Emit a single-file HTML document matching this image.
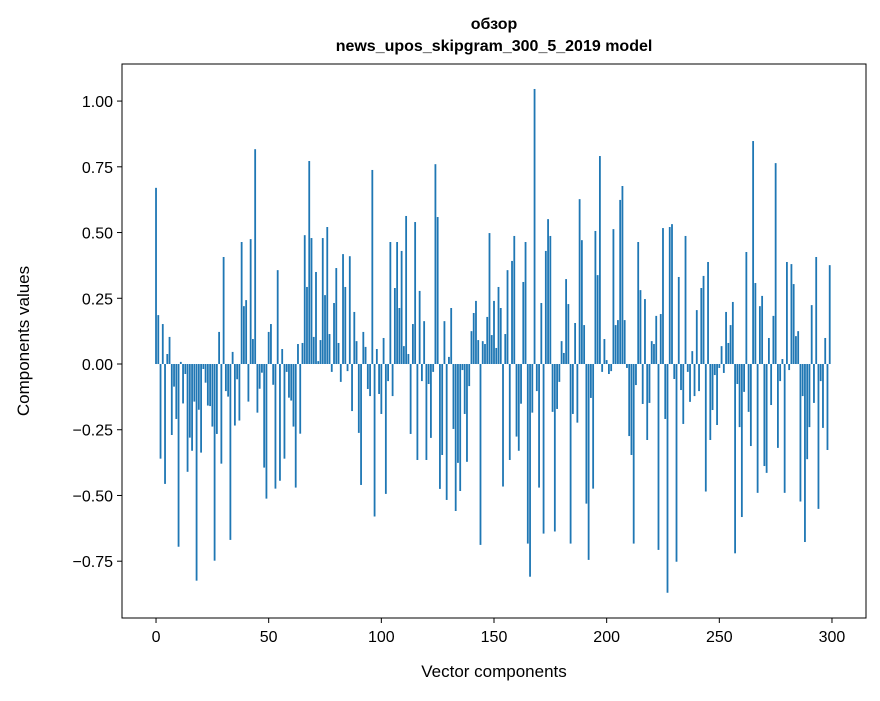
<!DOCTYPE html>
<html><head><meta charset="utf-8"><style>
body{margin:0;background:#fff;}
svg text{font-family:"Liberation Sans","DejaVu Sans",sans-serif;fill:#000;}
</style></head><body>
<svg id="chart" width="880" height="696" viewBox="0 0 880 696" xmlns="http://www.w3.org/2000/svg">
<rect x="0" y="0" width="880" height="696" fill="#fff"/>
<text x="494" y="29" text-anchor="middle" font-size="16" font-weight="bold">обзор</text>
<text x="494" y="51" text-anchor="middle" font-size="16" font-weight="bold">news_upos_skipgram_300_5_2019 model</text>
<g id="bars"></g>
<g id="axes"></g>
<text x="494" y="677" text-anchor="middle" font-size="17">Vector components</text>
<text x="0" y="0" transform="translate(29,341) rotate(-90)" text-anchor="middle" font-size="17">Components values</text>
</svg>
<script>
const values = [0.67,0.186,-0.36,0.152,-0.456,0.038,0.103,-0.27,-0.086,-0.209,-0.695,0.008,-0.15,-0.038,-0.41,-0.28,-0.33,-0.143,-0.824,-0.174,-0.337,-0.019,-0.071,-0.158,-0.16,-0.238,-0.748,-0.266,0.122,-0.379,0.407,-0.103,-0.124,-0.669,0.046,-0.234,-0.058,-0.215,0.464,0.22,0.243,-0.143,0.475,0.095,0.817,-0.185,-0.094,-0.033,-0.394,-0.512,
0.122,0.152,-0.079,-0.474,0.357,-0.444,0.057,-0.36,-0.03,-0.128,-0.139,-0.238,-0.47,0.076,-0.265,0.08,0.49,0.293,0.772,0.479,0.103,0.35,0.011,0.091,0.479,0.262,0.521,0.114,-0.03,0.232,0.365,0.08,-0.068,0.418,0.293,-0.027,0.41,-0.179,0.198,0.087,-0.262,-0.46,0.122,0.065,-0.095,-0.122,0.738,-0.58,0.057,-0.114,
-0.19,0.099,-0.494,-0.065,0.464,-0.122,0.289,0.464,0.213,0.43,0.068,0.563,0.038,-0.266,0.152,0.54,-0.365,0.278,-0.065,0.163,-0.365,-0.076,-0.281,-0.03,0.76,0.559,-0.475,-0.346,0.163,-0.517,0.027,0.213,-0.247,-0.559,-0.376,-0.483,-0.023,-0.19,-0.372,-0.084,0.125,0.194,0.24,0.091,-0.688,0.087,0.076,0.179,0.498,0.11,
0.24,0.061,0.293,0.213,-0.466,0.114,0.357,-0.365,0.392,0.487,-0.276,-0.33,-0.151,0.312,0.464,-0.683,-0.809,-0.185,1.046,-0.103,-0.47,0.232,-0.645,0.43,0.551,0.487,-0.182,-0.637,-0.171,-0.068,0.087,0.042,0.323,0.228,-0.683,-0.19,0.156,-0.223,0.627,0.471,0.148,-0.531,-0.745,-0.129,-0.474,0.506,0.338,0.791,-0.03,0.095,
0.015,-0.038,-0.027,0.513,0.148,0.167,0.624,0.677,0.167,-0.015,-0.274,-0.346,-0.683,-0.08,0.464,0.281,-0.152,0.247,-0.289,-0.148,0.087,0.076,0.183,-0.707,0.19,0.517,-0.209,-0.87,0.521,0.532,-0.057,-0.752,0.331,-0.099,-0.228,0.487,-0.03,-0.144,0.049,-0.122,0.205,-0.103,0.289,0.335,-0.485,0.388,-0.289,-0.175,-0.042,-0.232,
-0.015,0.068,-0.034,0.198,0.08,0.148,0.236,-0.72,-0.076,-0.24,-0.582,-0.106,0.426,-0.182,-0.312,0.848,0.308,-0.49,0.22,0.259,-0.388,-0.414,0.099,-0.156,0.183,0.764,-0.319,-0.065,0.019,-0.49,0.388,-0.023,0.38,0.304,0.106,0.125,-0.523,-0.122,-0.677,-0.362,-0.24,0.224,-0.148,0.407,-0.551,-0.065,-0.243,0.099,-0.327,0.376];
const xTicks = [0,50,100,150,200,250,300];
const yTicks = [-0.75,-0.5,-0.25,0,0.25,0.5,0.75,1.0];
const yTickLabels = ["\u22120.75","\u22120.50","\u22120.25","0.00","0.25","0.50","0.75","1.00"];

const L=122,R=866,T=64,B=618;
const xMin=-15.1,xMax=315.1,yMin=-0.966,yMax=1.141;
function xs(v){return L+(v-xMin)/(xMax-xMin)*(R-L);}
function ys(v){return B-(v-yMin)/(yMax-yMin)*(B-T);}
const NS="http://www.w3.org/2000/svg";
const bars=document.getElementById('bars');
values.forEach((v,i)=>{
  const r=document.createElementNS(NS,'rect');
  const x0=xs(i-0.4),x1=xs(i+0.4);
  const y0=ys(Math.max(v,0)),y1=ys(Math.min(v,0));
  r.setAttribute('x',x0);r.setAttribute('width',x1-x0);
  r.setAttribute('y',y0);r.setAttribute('height',Math.max(y1-y0,0.01));
  r.setAttribute('fill','#1f77b4');
  
  
  bars.appendChild(r);
});
const axes=document.getElementById('axes');
const frame=document.createElementNS(NS,'rect');
frame.setAttribute('x',L);frame.setAttribute('y',T);frame.setAttribute('width',R-L);frame.setAttribute('height',B-T);
frame.setAttribute('fill','none');frame.setAttribute('stroke','#000');frame.setAttribute('stroke-width','1');


axes.appendChild(frame);
xTicks.forEach(t=>{
  const x=xs(t);
  const l=document.createElementNS(NS,'line');
  l.setAttribute('x1',x);l.setAttribute('x2',x);l.setAttribute('y1',B);l.setAttribute('y2',B+5);l.setAttribute('stroke','#000');
  
  
  axes.appendChild(l);
  const tx=document.createElementNS(NS,'text');
  tx.setAttribute('x',x);tx.setAttribute('y',B+24);tx.setAttribute('text-anchor','middle');tx.setAttribute('font-size','16');
  tx.textContent=String(t);
  
  
  axes.appendChild(tx);
});
yTicks.forEach((t,k)=>{
  const y=ys(t);
  const l=document.createElementNS(NS,'line');
  l.setAttribute('x1',L-5);l.setAttribute('x2',L);l.setAttribute('y1',y);l.setAttribute('y2',y);l.setAttribute('stroke','#000');
  
  
  axes.appendChild(l);
  const tx=document.createElementNS(NS,'text');
  tx.setAttribute('x',L-9);tx.setAttribute('y',y+6);tx.setAttribute('text-anchor','end');tx.setAttribute('font-size','16');
  tx.textContent=yTickLabels[k];
  
  
  axes.appendChild(tx);
});
</script>
</body></html>
